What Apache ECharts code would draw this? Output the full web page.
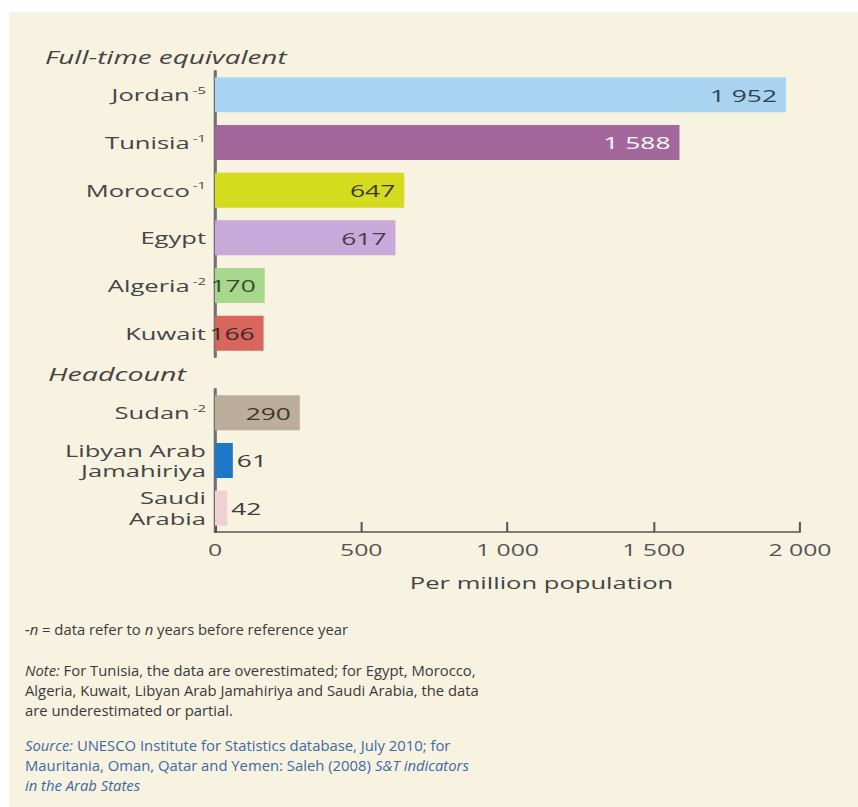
<!DOCTYPE html>
<html>
<head>
<meta charset="utf-8">
<script src="https://cdn.jsdelivr.net/npm/echarts@6/dist/echarts.min.js"></script>
<style>
  html, body { margin: 0; padding: 0; background: #ffffff; }
  body { width: 858px; height: 807px; position: relative; overflow: hidden; }
  #panel { position: absolute; left: 9px; top: 12px; right: 0; bottom: 0; background: #f8f2e1; }
  #chart { position: absolute; left: 0; top: 0; width: 554px; height: 807px;
           transform: scaleX(1.5487); transform-origin: 0 0; }
</style>
</head>
<body>
<div id="panel"></div>
<div id="chart"></div>
<script>
// Researchers per million population
const fteCountries = ['Jordan', 'Tunisia', 'Morocco', 'Egypt', 'Algeria', 'Kuwait'];
const fteYearNotes = ['-5', '-1', '-1', '', '-2', ''];
const fteValues = [1952, 1588, 647, 617, 170, 166];

const hcCountries = ['Sudan', 'Libyan Arab\nJamahiriya', 'Saudi\nArabia'];
const hcYearNotes = ['-2', '', ''];
const hcValues = [290, 61, 42];

const axisTicks = [0, 500, 1000, 1500, 2000];

const fteColors = ['#a8d4f1', '#a4679c', '#d5dc1e', '#c9a9d9', '#a7d88c', '#d8665c'];
const hcColors = ['#bcae9b', '#1c78c6', '#eed2d2'];
const fteLabelColors = ['#34404c', '#ffffff', '#3a3a2a', '#4a3a4e', '#3a4a32', '#3a2a28'];
const hcLabelInside = [true, false, false];

// the drawing is laid out in a narrower box and widened by CSS
const S = 858 / 554;
const X = v => v / S;

const fmt = v => String(v).replace(/\B(?=(\d{3})+(?!\d))/g, ' ');

const chart = echarts.init(document.getElementById('chart'), null, { renderer: 'svg' });

const catLabel = notes => ({
  margin: X(9),
  color: '#444',
  align: 'right',
  formatter: (value, index) => {
    const lines = value.split('\n');
    const note = notes[index];
    return lines.map((ln, k) =>
      '{n|' + ln + '}' + (k === lines.length - 1 && note ? '{s|' + note + '}' : '')
    ).join('\n');
  },
  rich: {
    n: { fontSize: 16.5, fontFamily: 'Open Sans', color: '#454545', lineHeight: 20.5 },
    s: { fontSize: 9.5, fontFamily: 'Open Sans', color: '#454545', verticalAlign: 'top', padding: [1, 0, 0, 2] }
  }
});

const yAxisBase = {
  type: 'category',
  inverse: true,
  axisLine: { show: true, onZero: false, lineStyle: { color: '#6e6f72', width: 2 } },
  axisTick: { show: false },
  splitLine: { show: false }
};

const footFont = 'Open Sans';
const FS = 1.06 / S;

const option = {
  backgroundColor: 'transparent',
  animation: false,
  textStyle: { fontFamily: 'Open Sans' },
  grid: [
    { left: X(215), width: X(585), top: 71, height: 286 },
    { left: X(215), width: X(585), top: 389, height: 143 }
  ],
  xAxis: [
    { gridIndex: 0, type: 'value', min: 0, max: 2000, interval: 500, show: false },
    {
      gridIndex: 1, type: 'value', min: axisTicks[0], max: axisTicks[axisTicks.length - 1], interval: 500,
      axisLine: { show: true, lineStyle: { color: '#555555', width: 1.5 } },
      axisTick: { show: true, inside: true, length: 10, lineStyle: { color: '#555555', width: 1.3 } },
      splitLine: { show: false },
      axisLabel: { margin: 10, fontSize: 16, color: '#555555', formatter: v => fmt(v) },
      name: 'Per million population',
      nameLocation: 'middle',
      nameGap: 42,
      nameTextStyle: { fontSize: 16.5, color: '#444', padding: [0, 0, 0, 44] }
    }
  ],
  yAxis: [
    Object.assign({ gridIndex: 0, data: fteCountries, axisLabel: catLabel(fteYearNotes) }, yAxisBase),
    Object.assign({ gridIndex: 1, data: hcCountries, axisLabel: catLabel(hcYearNotes) }, yAxisBase)
  ],
  series: [
    {
      type: 'bar', xAxisIndex: 0, yAxisIndex: 0, barWidth: 35,
      data: fteValues.map((v, i) => ({
        value: v,
        itemStyle: { color: fteColors[i] },
        label: { color: fteLabelColors[i] }
      })),
      label: {
        show: true, position: 'insideRight', distance: X(9),
        fontSize: 17, formatter: p => fmt(p.value)
      }
    },
    {
      type: 'bar', xAxisIndex: 1, yAxisIndex: 1, barWidth: 35,
      data: hcValues.map((v, i) => ({
        value: v,
        itemStyle: { color: hcColors[i] },
        label: hcLabelInside[i]
          ? { position: 'insideRight', distance: X(9), color: '#3e362c' }
          : { position: 'right', distance: X(4), color: '#3c3c3c' }
      })),
      label: { show: true, fontSize: 17, formatter: p => fmt(p.value) }
    }
  ],
  graphic: [
    {
      type: 'text', x: X(45), y: 57,
      style: { text: 'Full-time equivalent', fontFamily: 'Open Sans', fontStyle: 'italic', fontSize: 18, fill: '#444', verticalAlign: 'middle' }
    },
    {
      type: 'text', x: X(48), y: 374,
      style: { text: 'Headcount', fontFamily: 'Open Sans', fontStyle: 'italic', fontSize: 18.5, fill: '#444', verticalAlign: 'middle' }
    },
    {
      type: 'text', x: X(25), y: 630, scaleX: FS,
      style: {
        text: '{i|-n} = data refer to {i|n} years before reference year',
        fontFamily: footFont, fontSize: 14, fill: '#3a3a3a', verticalAlign: 'middle',
        rich: { i: { fontStyle: 'italic', fontFamily: footFont, fontSize: 14, fill: '#3a3a3a' } }
      }
    },
    {
      type: 'text', x: X(25), y: 661, scaleX: FS,
      style: {
        text: '{i|Note:} For Tunisia, the data are overestimated; for Egypt, Morocco,\nAlgeria, Kuwait, Libyan Arab Jamahiriya and Saudi Arabia, the data\nare underestimated or partial.',
        fontFamily: footFont, fontSize: 14, lineHeight: 20, fill: '#3a3a3a', verticalAlign: 'top',
        rich: { i: { fontStyle: 'italic', fontFamily: footFont, fontSize: 14, lineHeight: 20, fill: '#3a3a3a' } }
      }
    },
    {
      type: 'text', x: X(25), y: 736, scaleX: FS,
      style: {
        text: '{i|Source:} UNESCO Institute for Statistics database, July 2010; for\nMauritania, Oman, Qatar and Yemen: Saleh (2008) {i|S&T indicators}\n{i|in the Arab States}',
        fontFamily: footFont, fontSize: 14, lineHeight: 20, fill: '#3b6aa5', verticalAlign: 'top',
        rich: { i: { fontStyle: 'italic', fontFamily: footFont, fontSize: 14, lineHeight: 20, fill: '#3b6aa5' } }
      }
    }
  ]
};

chart.setOption(option);
</script>
</body>
</html>
